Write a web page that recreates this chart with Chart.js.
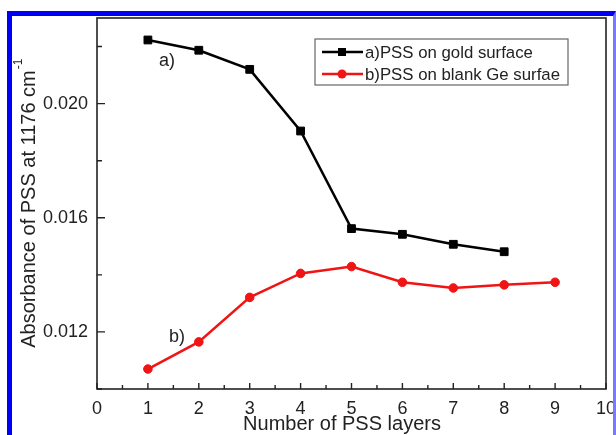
<!DOCTYPE html>
<html>
<head>
<meta charset="utf-8">
<script src="https://cdn.jsdelivr.net/npm/chart.js@4.4.0/dist/chart.umd.min.js"></script>
<style>
  html, body { margin: 0; padding: 0; background: #fff; }
  #wrap { position: relative; width: 616px; height: 435px; overflow: hidden; }
  #frame {
    position: absolute; left: 7px; top: 11px; right: 0; bottom: -10px;
    border-left: 5px solid #0000f5; border-top: 5px solid #0000f5; border-right: 3px solid #7a7aff;
    pointer-events: none;
  }
</style>
</head>
<body>
<div id="wrap">
  <canvas id="absChart" width="616" height="435"></canvas>
  <div id="frame"></div>
</div>
<script>
// PSS absorbance at 1176 cm-1 vs. number of layers
const layers = [1, 2, 3, 4, 5, 6, 7, 8, 9];
const goldAbs = [0.02223, 0.02187, 0.02120, 0.01904, 0.01562, 0.01542, 0.01507, 0.01481];
const geAbs = [0.01070, 0.01165, 0.01321, 0.01405, 0.01429, 0.01374, 0.01354, 0.01365, 0.01374];

const xMajorTicks = [0, 1, 2, 3, 4, 5, 6, 7, 8, 9, 10];
const xMinorTicks = [0.5, 1.5, 2.5, 3.5, 4.5, 5.5, 6.5, 7.5, 8.5, 9.5];
const yMajorTicks = [0.012, 0.016, 0.020];
const yMinorTicks = [0.010, 0.014, 0.018, 0.022];

const legendLabels = ['a)PSS on gold surface', 'b)PSS on blank Ge surfae'];
const FONT = '"Liberation Sans", Arial, sans-serif';
const TEXT = '#222';
const RED = '#f01414';

function toPoints(ys) {
    return ys.map((y, i) => ({ x: layers[i], y: y }));
}

// frame, inward ticks, titles, legend and curve labels
const decorations = {
    id: 'decorations',
    afterDraw(chart) {
        const ctx = chart.ctx;
        const area = chart.chartArea;
        const xs = chart.scales.x;
        const ys = chart.scales.y;
        ctx.save();

        ctx.strokeStyle = '#222';
        ctx.lineWidth = 1.6;
        ctx.strokeRect(area.left, area.top, area.right - area.left, area.bottom - area.top);

        ctx.lineWidth = 1.4;
        ctx.beginPath();
        xMajorTicks.forEach(v => {
            const px = xs.getPixelForValue(v);
            ctx.moveTo(px, area.bottom); ctx.lineTo(px, area.bottom - 6);
        });
        xMinorTicks.forEach(v => {
            const px = xs.getPixelForValue(v);
            ctx.moveTo(px, area.bottom); ctx.lineTo(px, area.bottom - 4);
        });
        yMajorTicks.forEach(v => {
            const py = ys.getPixelForValue(v);
            ctx.moveTo(area.left, py); ctx.lineTo(area.left + 8, py);
        });
        yMinorTicks.forEach(v => {
            const py = ys.getPixelForValue(v);
            ctx.moveTo(area.left, py); ctx.lineTo(area.left + 5, py);
        });
        ctx.stroke();

        // axis titles
        ctx.fillStyle = TEXT;
        ctx.font = '20px ' + FONT;
        ctx.textAlign = 'center';
        ctx.textBaseline = 'middle';
        ctx.fillText('Number of PSS layers', 342, 424);

        ctx.save();
        ctx.translate(29, 203);
        ctx.rotate(-Math.PI / 2);
        const main = 'Absorbance of PSS at 1176 cm';
        const w = ctx.measureText(main).width;
        ctx.textAlign = 'left';
        ctx.fillText(main, -w / 2 - 6, 0);
        ctx.font = '12px ' + FONT;
        ctx.fillText('-1', w / 2 - 5, -10);
        ctx.restore();

        // curve labels
        ctx.font = '18px ' + FONT;
        ctx.fillText('a)', 167, 61);
        ctx.fillText('b)', 177, 337);

        // legend
        ctx.fillStyle = '#fff';
        ctx.fillRect(315, 39, 253, 46);
        ctx.strokeStyle = '#666';
        ctx.lineWidth = 1.2;
        ctx.strokeRect(315, 39, 253, 46);
        const rows = [
            { y: 52, color: '#000', style: 'rect' },
            { y: 74, color: RED, style: 'circle' }
        ];
        ctx.font = '16.8px ' + FONT;
        ctx.textAlign = 'left';
        rows.forEach((r, i) => {
            ctx.strokeStyle = r.color;
            ctx.lineWidth = 2.5;
            ctx.beginPath();
            ctx.moveTo(322, r.y); ctx.lineTo(363, r.y);
            ctx.stroke();
            ctx.fillStyle = r.color;
            if (r.style === 'rect') {
                ctx.fillRect(338, r.y - 4, 8, 8);
            } else {
                ctx.beginPath();
                ctx.arc(342, r.y, 4.5, 0, Math.PI * 2);
                ctx.fill();
            }
            ctx.fillStyle = TEXT;
            ctx.fillText(legendLabels[i], 365, r.y + 1);
        });

        ctx.restore();
    }
};

const ctx = document.getElementById('absChart').getContext('2d');
new Chart(ctx, {
    type: 'line',
    data: {
        datasets: [
            {
                label: legendLabels[0],
                data: toPoints(goldAbs),
                borderColor: '#000',
                backgroundColor: '#000',
                borderWidth: 2.5,
                pointStyle: 'rect',
                pointRadius: 5.5,
                pointBorderWidth: 1,
                tension: 0
            },
            {
                label: legendLabels[1],
                data: toPoints(geAbs),
                borderColor: RED,
                backgroundColor: RED,
                borderWidth: 2.5,
                pointStyle: 'circle',
                pointRadius: 4.3,
                pointBorderWidth: 1,
                tension: 0
            }
        ]
    },
    options: {
        responsive: false,
        animation: false,
        layout: { padding: { top: 18, right: 10, left: 0, bottom: 0 } },
        plugins: {
            legend: { display: false },
            tooltip: { enabled: false }
        },
        scales: {
            x: {
                type: 'linear',
                min: 0,
                max: 10,
                afterBuildTicks: scale => { scale.ticks = xMajorTicks.map(v => ({ value: v })); },
                afterFit: scale => {
                    scale.height = 46;
                    // the end labels may run into the padding
                    scale.paddingLeft = 0;
                    scale.paddingRight = 0;
                },
                grid: { display: false, drawTicks: false },
                border: { display: false },
                ticks: {
                    color: TEXT,
                    font: { family: FONT, size: 18 },
                    padding: 9,
                    maxRotation: 0,
                    autoSkip: false
                }
            },
            y: {
                min: 0.010,
                max: 0.023,
                afterBuildTicks: scale => { scale.ticks = yMajorTicks.map(v => ({ value: v })); },
                afterFit: scale => {
                    scale.width = 97;
                    scale.paddingTop = 0;
                    scale.paddingBottom = 0;
                },
                grid: { display: false, drawTicks: false },
                border: { display: false },
                ticks: {
                    color: TEXT,
                    font: { family: FONT, size: 18 },
                    padding: 9,
                    callback: v => v.toFixed(3)
                }
            }
        }
    },
    plugins: [decorations]
});
</script>
</body>
</html>
